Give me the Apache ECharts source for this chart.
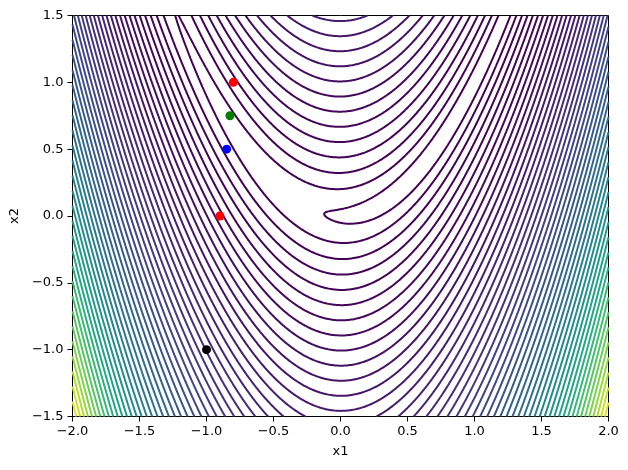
<!DOCTYPE html>
<html>
<head>
<meta charset="utf-8">
<script src="https://cdn.jsdelivr.net/npm/echarts@6/dist/echarts.min.js"></script>
<style>
  html, body { margin: 0; padding: 0; background: #fff; }
  #chart { width: 628px; height: 470px; }
</style>
</head>
<body>
<div id="chart"></div>
<script>
// Rosenbrock surface f = 100 (x2 - x1^2)^2 + (1 - x1)^2 over the plotted window
const x1Range = [-2, 2]
const x2Range = [-1.5, 1.5]
const x1Ticks = [-2, -1.5, -1, -0.5, 0, 0.5, 1, 1.5, 2]
const x2Ticks = [-1.5, -1, -0.5, 0, 0.5, 1, 1.5]

// contour levels (evenly spaced in sqrt(f))
const levels = [
  0, 1.26, 5.05, 11.37, 20.22, 31.59, 45.49, 61.92, 80.87, 102.36,
  126.37, 152.90, 181.97, 213.56, 247.68, 284.32, 323.49, 365.19, 409.42, 456.18,
  505.46, 557.27, 611.61, 668.47, 727.86, 789.78, 854.23, 921.20, 990.70, 1062.73,
  1137.29, 1214.37, 1293.98, 1376.12, 1460.79, 1547.98, 1637.69, 1729.94, 1824.71, 1922.01,
  2021.84, 2124.20, 2229.08, 2336.49, 2446.43, 2558.89, 2673.88, 2791.40, 2911.45, 3034.03
]

// marked points
const pointX1 = [-1, -0.9, -0.85, -0.825, -0.8]
const pointX2 = [-1, 0, 0.5, 0.75, 1.0]
const pointColors = ['#000000', '#ff0000', '#0000ff', '#008000', '#ff0000']

// viridis stops at 0, 0.1, ... 1
const viridis = [
  [68, 1, 84], [72, 36, 117], [65, 68, 135], [53, 95, 141], [42, 120, 142],
  [33, 145, 140], [34, 168, 132], [68, 191, 112], [122, 209, 81], [189, 223, 38], [253, 231, 37]
]

function rosen(a, b) {
  return 100 * (b - a * a) * (b - a * a) + (1 - a) * (1 - a)
}

function viridisColor(t) {
  t = Math.max(0, Math.min(1, t))
  const p = t * (viridis.length - 1)
  const i = Math.min(Math.floor(p), viridis.length - 2)
  const f = p - i
  const c = viridis[i].map((v, k) => Math.round(v + (viridis[i + 1][k] - v) * f))
  return 'rgb(' + c.join(',') + ')'
}

// sample grid
const step = 0.01
const nx = Math.round((x1Range[1] - x1Range[0]) / step) + 1
const ny = Math.round((x2Range[1] - x2Range[0]) / step) + 1
const xs = []
const ys = []
for (let i = 0; i < nx; i++) xs.push(x1Range[0] + i * step)
for (let j = 0; j < ny; j++) ys.push(x2Range[0] + j * step)
const z = new Float64Array(nx * ny)
for (let j = 0; j < ny; j++) {
  for (let i = 0; i < nx; i++) z[j * nx + i] = rosen(xs[i], ys[j])
}

/**
 * marching squares + stitching of segments into polylines
 */
function contourLines(level) {
  const H = (i, j) => 2 * (j * nx + i)
  const V = (i, j) => 2 * (j * nx + i) + 1
  const segs = []
  for (let j = 0; j < ny - 1; j++) {
    for (let i = 0; i < nx - 1; i++) {
      const v0 = z[j * nx + i]
      const v1 = z[j * nx + i + 1]
      const v2 = z[(j + 1) * nx + i + 1]
      const v3 = z[(j + 1) * nx + i]
      const code = (v0 > level ? 1 : 0) | (v1 > level ? 2 : 0) | (v2 > level ? 4 : 0) | (v3 > level ? 8 : 0)
      if (code === 0 || code === 15) continue
      const b = H(i, j), r = V(i + 1, j), t = H(i, j + 1), l = V(i, j)
      const centerUp = (v0 + v1 + v2 + v3) / 4 > level
      switch (code) {
        case 1: case 14: segs.push([l, b]); break
        case 2: case 13: segs.push([b, r]); break
        case 3: case 12: segs.push([l, r]); break
        case 4: case 11: segs.push([r, t]); break
        case 6: case 9: segs.push([b, t]); break
        case 7: case 8: segs.push([l, t]); break
        case 5:
          if (centerUp) { segs.push([b, r]); segs.push([l, t]) } else { segs.push([l, b]); segs.push([r, t]) }
          break
        case 10:
          if (centerUp) { segs.push([l, b]); segs.push([r, t]) } else { segs.push([b, r]); segs.push([l, t]) }
          break
      }
    }
  }

  const adj = new Map()
  segs.forEach((s, k) => {
    for (const e of s) {
      if (!adj.has(e)) adj.set(e, [])
      adj.get(e).push(k)
    }
  })

  const edgePoint = id => {
    const vert = id % 2
    const cell = (id - vert) / 2
    const i = cell % nx
    const j = (cell - i) / nx
    const za = z[j * nx + i]
    if (vert) {
      const zb = z[(j + 1) * nx + i]
      const f = (level - za) / (zb - za)
      return [xs[i], ys[j] + f * step]
    }
    const zb = z[j * nx + i + 1]
    const f = (level - za) / (zb - za)
    return [xs[i] + f * step, ys[j]]
  }

  const used = new Uint8Array(segs.length)
  const walk = (startSeg, fromEdge) => {
    const out = []
    let cur = fromEdge
    let seg = startSeg
    while (true) {
      const next = (adj.get(cur) || []).find(k => k !== seg && !used[k])
      if (next === undefined) break
      used[next] = 1
      const s = segs[next]
      cur = s[0] === cur ? s[1] : s[0]
      seg = next
      out.push(cur)
    }
    return out
  }

  const lines = []
  for (let k = 0; k < segs.length; k++) {
    if (used[k]) continue
    used[k] = 1
    const [a, b] = segs[k]
    const fwd = walk(k, b)
    const back = walk(k, a)
    const ids = back.reverse().concat([a, b], fwd)
    lines.push(ids.map(edgePoint))
  }
  return lines
}

const maxLevel = levels[levels.length - 1]
const contourData = []
levels.forEach(lv => {
  const color = viridisColor(lv / maxLevel)
  contourLines(lv).forEach(coords => {
    if (coords.length < 2) return
    contourData.push({ coords: coords, lineStyle: { color: color, width: 2, opacity: 1 } })
  })
})

const pointData = pointX1.map((x, i) => ({
  value: [x, pointX2[i]],
  itemStyle: { color: pointColors[i], opacity: 1 }
}))

const fmt = v => v.toFixed(1).replace('-', '\u2212')
const axisText = { color: '#000', fontSize: 13, fontFamily: 'DejaVu Sans' }

const chart = echarts.init(document.getElementById('chart'), null, { renderer: 'canvas' })
chart.setOption({
  animation: false,
  backgroundColor: '#fff',
  grid: {
    left: 72.5,
    right: 19.5,
    top: 15.5,
    bottom: 53.5,
    show: true,
    borderColor: '#000',
    borderWidth: 1,
    backgroundColor: 'transparent'
  },
  xAxis: {
    type: 'value',
    min: x1Range[0],
    max: x1Range[1],
    interval: x1Ticks[1] - x1Ticks[0],
    name: 'x1',
    nameLocation: 'middle',
    nameGap: 29,
    nameTextStyle: { color: '#000', fontSize: 13, fontFamily: 'DejaVu Sans' },
    axisLine: { onZero: false, lineStyle: { color: '#000', width: 1 } },
    axisTick: { show: true, length: 5, lineStyle: { color: '#000' } },
    axisLabel: Object.assign({ margin: 9, formatter: fmt }, axisText),
    splitLine: { show: false }
  },
  yAxis: {
    type: 'value',
    min: x2Range[0],
    max: x2Range[1],
    interval: x2Ticks[1] - x2Ticks[0],
    name: 'x2',
    nameLocation: 'middle',
    nameGap: 49,
    nameRotate: 90,
    nameTextStyle: { color: '#000', fontSize: 13, fontFamily: 'DejaVu Sans' },
    axisLine: { onZero: false, lineStyle: { color: '#000', width: 1 } },
    axisTick: { show: true, length: 5, lineStyle: { color: '#000' } },
    axisLabel: Object.assign({ margin: 9, formatter: fmt }, axisText),
    splitLine: { show: false }
  },
  series: [
    {
      type: 'lines',
      coordinateSystem: 'cartesian2d',
      polyline: true,
      silent: true,
      lineStyle: { width: 2, opacity: 1 },
      data: contourData
    },
    {
      type: 'scatter',
      symbol: 'circle',
      symbolSize: 9,
      silent: true,
      z: 5,
      itemStyle: { opacity: 1 },
      data: pointData
    }
  ]
})
</script>
</body>
</html>
